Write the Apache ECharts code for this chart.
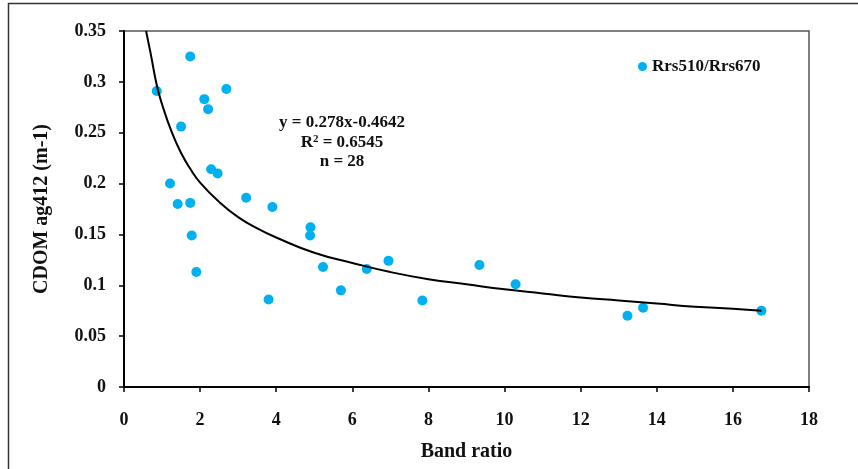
<!DOCTYPE html>
<html lang="en">
<head>
	<meta charset="UTF-8">
	<title>CDOM band ratio</title>
	<style>
		html, body { margin: 0; padding: 0; background: #fff; }
	</style>
</head>
<body>
	<div id="chart" style="width: 858px;height:469px;"></div>
	<script src="https://cdn.jsdelivr.net/npm/echarts@6/dist/echarts.min.js"></script>
	<script>
		// measured points (band ratio, ag412)
		var ratioX = [0.86, 1.74, 2.11, 2.21, 2.69, 1.50, 1.21, 1.41, 1.74, 2.29, 2.46, 3.21, 3.90, 4.90,
			1.78, 1.90, 3.80, 4.89, 5.23, 5.70, 6.38, 6.95, 7.84, 9.34, 10.29, 13.23, 13.64, 16.75];
		var cdomY = [0.291, 0.325, 0.283, 0.273, 0.293, 0.256, 0.200, 0.180, 0.181, 0.214, 0.210, 0.186, 0.177, 0.157,
			0.149, 0.113, 0.086, 0.149, 0.118, 0.095, 0.116, 0.124, 0.085, 0.120, 0.101, 0.070, 0.078, 0.075];

		// fitted curve
		var fitX = [0.58, 0.7, 0.86, 1, 1.25, 1.5, 1.75, 2, 2.5, 3, 3.5, 4, 5, 6, 7, 8, 9, 10, 11, 12, 13, 14, 15, 16, 16.75];
		var fitY = [0.350, 0.328, 0.297, 0.278, 0.251, 0.230, 0.214, 0.201, 0.182, 0.167, 0.156, 0.147, 0.132, 0.122,
			0.113, 0.106, 0.101, 0.096, 0.092, 0.088, 0.085, 0.082, 0.079, 0.077, 0.075];

		var xTicks = [0, 2, 4, 6, 8, 10, 12, 14, 16, 18];
		var yTicks = ['0', '0.05', '0.1', '0.15', '0.2', '0.25', '0.3', '0.35'];

		var font = '"Liberation Serif", "Times New Roman", serif';

		var myChart = echarts.init(document.getElementById('chart'));

		function pairs(xs, ys) {
			return xs.map(function (x, i) { return [x, ys[i]]; });
		}

		// equation label, one line each, centred at x = 342
		function eqLine(text, y) {
			return {
				type: 'text', x: 342, y: y, z: 100,
				style: {
					text: text,
					align: 'center', verticalAlign: 'middle',
					rich: {
						a: { fontFamily: font, fontWeight: 'bold', fontSize: 17, fill: '#111' },
						s: { fontFamily: font, fontWeight: 'bold', fontSize: 11, fill: '#111', padding: [0, 0, 7, 0] }
					}
				}
			};
		}

		var option = {
			backgroundColor: '#fff',
			animation: false,
			grid: {
				left: 124, top: 31, right: 49, bottom: 82,
				show: true, borderColor: '#555', borderWidth: 1.5
			},
			legend: {
				data: ['Rrs510/Rrs670'],
				left: 633, top: 53,
				icon: 'circle', itemWidth: 9, itemHeight: 9, itemGap: 4,
				textStyle: { fontFamily: font, fontWeight: 'bold', fontSize: 17, color: '#111' }
			},
			xAxis: {
				type: 'value', min: xTicks[0], max: xTicks[xTicks.length - 1], interval: 2,
				name: 'Band ratio', nameLocation: 'middle', nameGap: 55,
				nameTextStyle: { fontFamily: font, fontWeight: 'bold', fontSize: 20, color: '#111' },
				axisLine: { lineStyle: { color: '#000', width: 2 } },
				axisTick: { show: true, length: 5, lineStyle: { color: '#000', width: 1.5 } },
				axisLabel: { margin: 24, fontFamily: font, fontWeight: 'bold', fontSize: 18, color: '#111' },
				splitLine: { show: false }
			},
			yAxis: {
				type: 'value', min: 0, max: 0.35, interval: 0.05,
				name: 'CDOM ag412 (m-1)', nameLocation: 'middle', nameGap: 72,
				nameTextStyle: { fontFamily: font, fontWeight: 'bold', fontSize: 20, color: '#111' },
				axisLine: { show: true, lineStyle: { color: '#000', width: 2 } },
				axisTick: { show: true, length: 5, lineStyle: { color: '#000', width: 1.5 } },
				axisLabel: {
					margin: 18, fontFamily: font, fontWeight: 'bold', fontSize: 18, color: '#111',
					formatter: function (v) {
						return yTicks[Math.round(v / 0.05)];
					}
				},
				splitLine: { show: false }
			},
			graphic: [
				{
					type: 'rect', silent: true, z: 100,
					shape: { x: 8.5, y: 3.5, width: 900, height: 520 },
					style: { fill: 'none', stroke: '#333', lineWidth: 1.5 }
				},
				eqLine('{a|y = 0.278x-0.4642}', 123),
				eqLine('{a|R}{s|2}{a| = 0.6545}', 143),
				eqLine('{a|n = 28}', 162)
			],
			series: [
				{
					name: 'Power fit',
					type: 'line',
					data: pairs(fitX, fitY),
					smooth: true,
					showSymbol: false,
					lineStyle: { color: '#000', width: 2 },
					z: 3
				},
				{
					name: 'Rrs510/Rrs670',
					type: 'scatter',
					data: pairs(ratioX, cdomY),
					symbolSize: 10,
					itemStyle: { color: '#00B0F0', opacity: 1 },
					z: 2
				}
			]
		};

		myChart.setOption(option);
	</script>
</body>
</html>
